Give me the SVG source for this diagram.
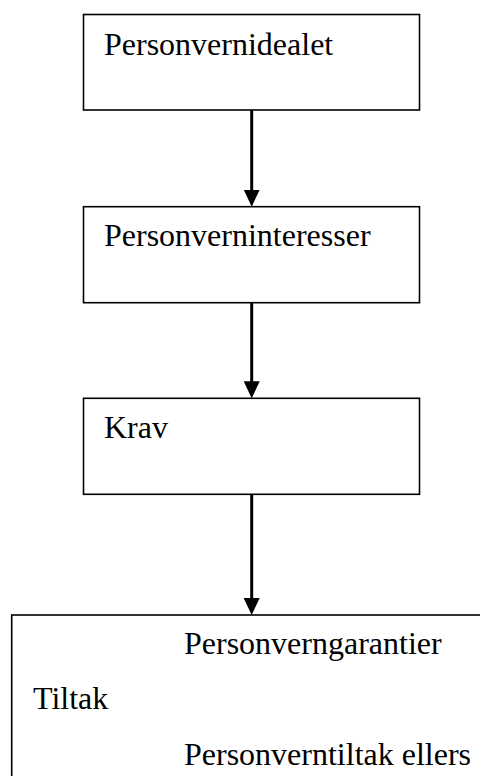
<svg xmlns="http://www.w3.org/2000/svg" width="480" height="776" viewBox="0 0 480 776">
<defs>
<style>
.box{fill:#fff;stroke:#000;stroke-width:1.6}
.t{font-family:"Liberation Serif","Times New Roman",serif;font-size:32px;fill:#000}
.conn{stroke:#000;stroke-width:3;fill:none}
</style>
<marker id="arr" viewBox="0 0 17 16" refX="7" refY="8" markerWidth="17" markerHeight="16" markerUnits="userSpaceOnUse" orient="auto">
<path d="M0,0 L17,8 L0,16 z" fill="#000"/>
</marker>
</defs>
<rect width="480" height="776" fill="#fff"/>
<g id="n1">
<rect class="box" x="83.5" y="14.5" width="336" height="95.5"/>
<text class="t" x="104" y="55">Personvernidealet</text>
</g>
<g id="n2">
<rect class="box" x="83.5" y="206.7" width="336" height="96"/>
<text class="t" x="104" y="246">Personverninteresser</text>
</g>
<g id="n3">
<rect class="box" x="83.5" y="398.3" width="336" height="96"/>
<text class="t" x="104" y="438">Krav</text>
</g>
<g id="n4">
<rect class="box" x="11.7" y="615" width="480" height="200"/>
<text class="t" x="184" y="654">Personverngarantier</text>
<text class="t" x="33" y="709">Tiltak</text>
<text class="t" x="184" y="765">Personverntiltak ellers</text>
</g>
<g id="connectors">
<line class="conn" x1="251.7" y1="110" x2="251.7" y2="196.7" marker-end="url(#arr)"/>
<line class="conn" x1="251.7" y1="302.7" x2="251.7" y2="388.3" marker-end="url(#arr)"/>
<line class="conn" x1="251.7" y1="494.3" x2="251.7" y2="605" marker-end="url(#arr)"/>
</g>
</svg>
